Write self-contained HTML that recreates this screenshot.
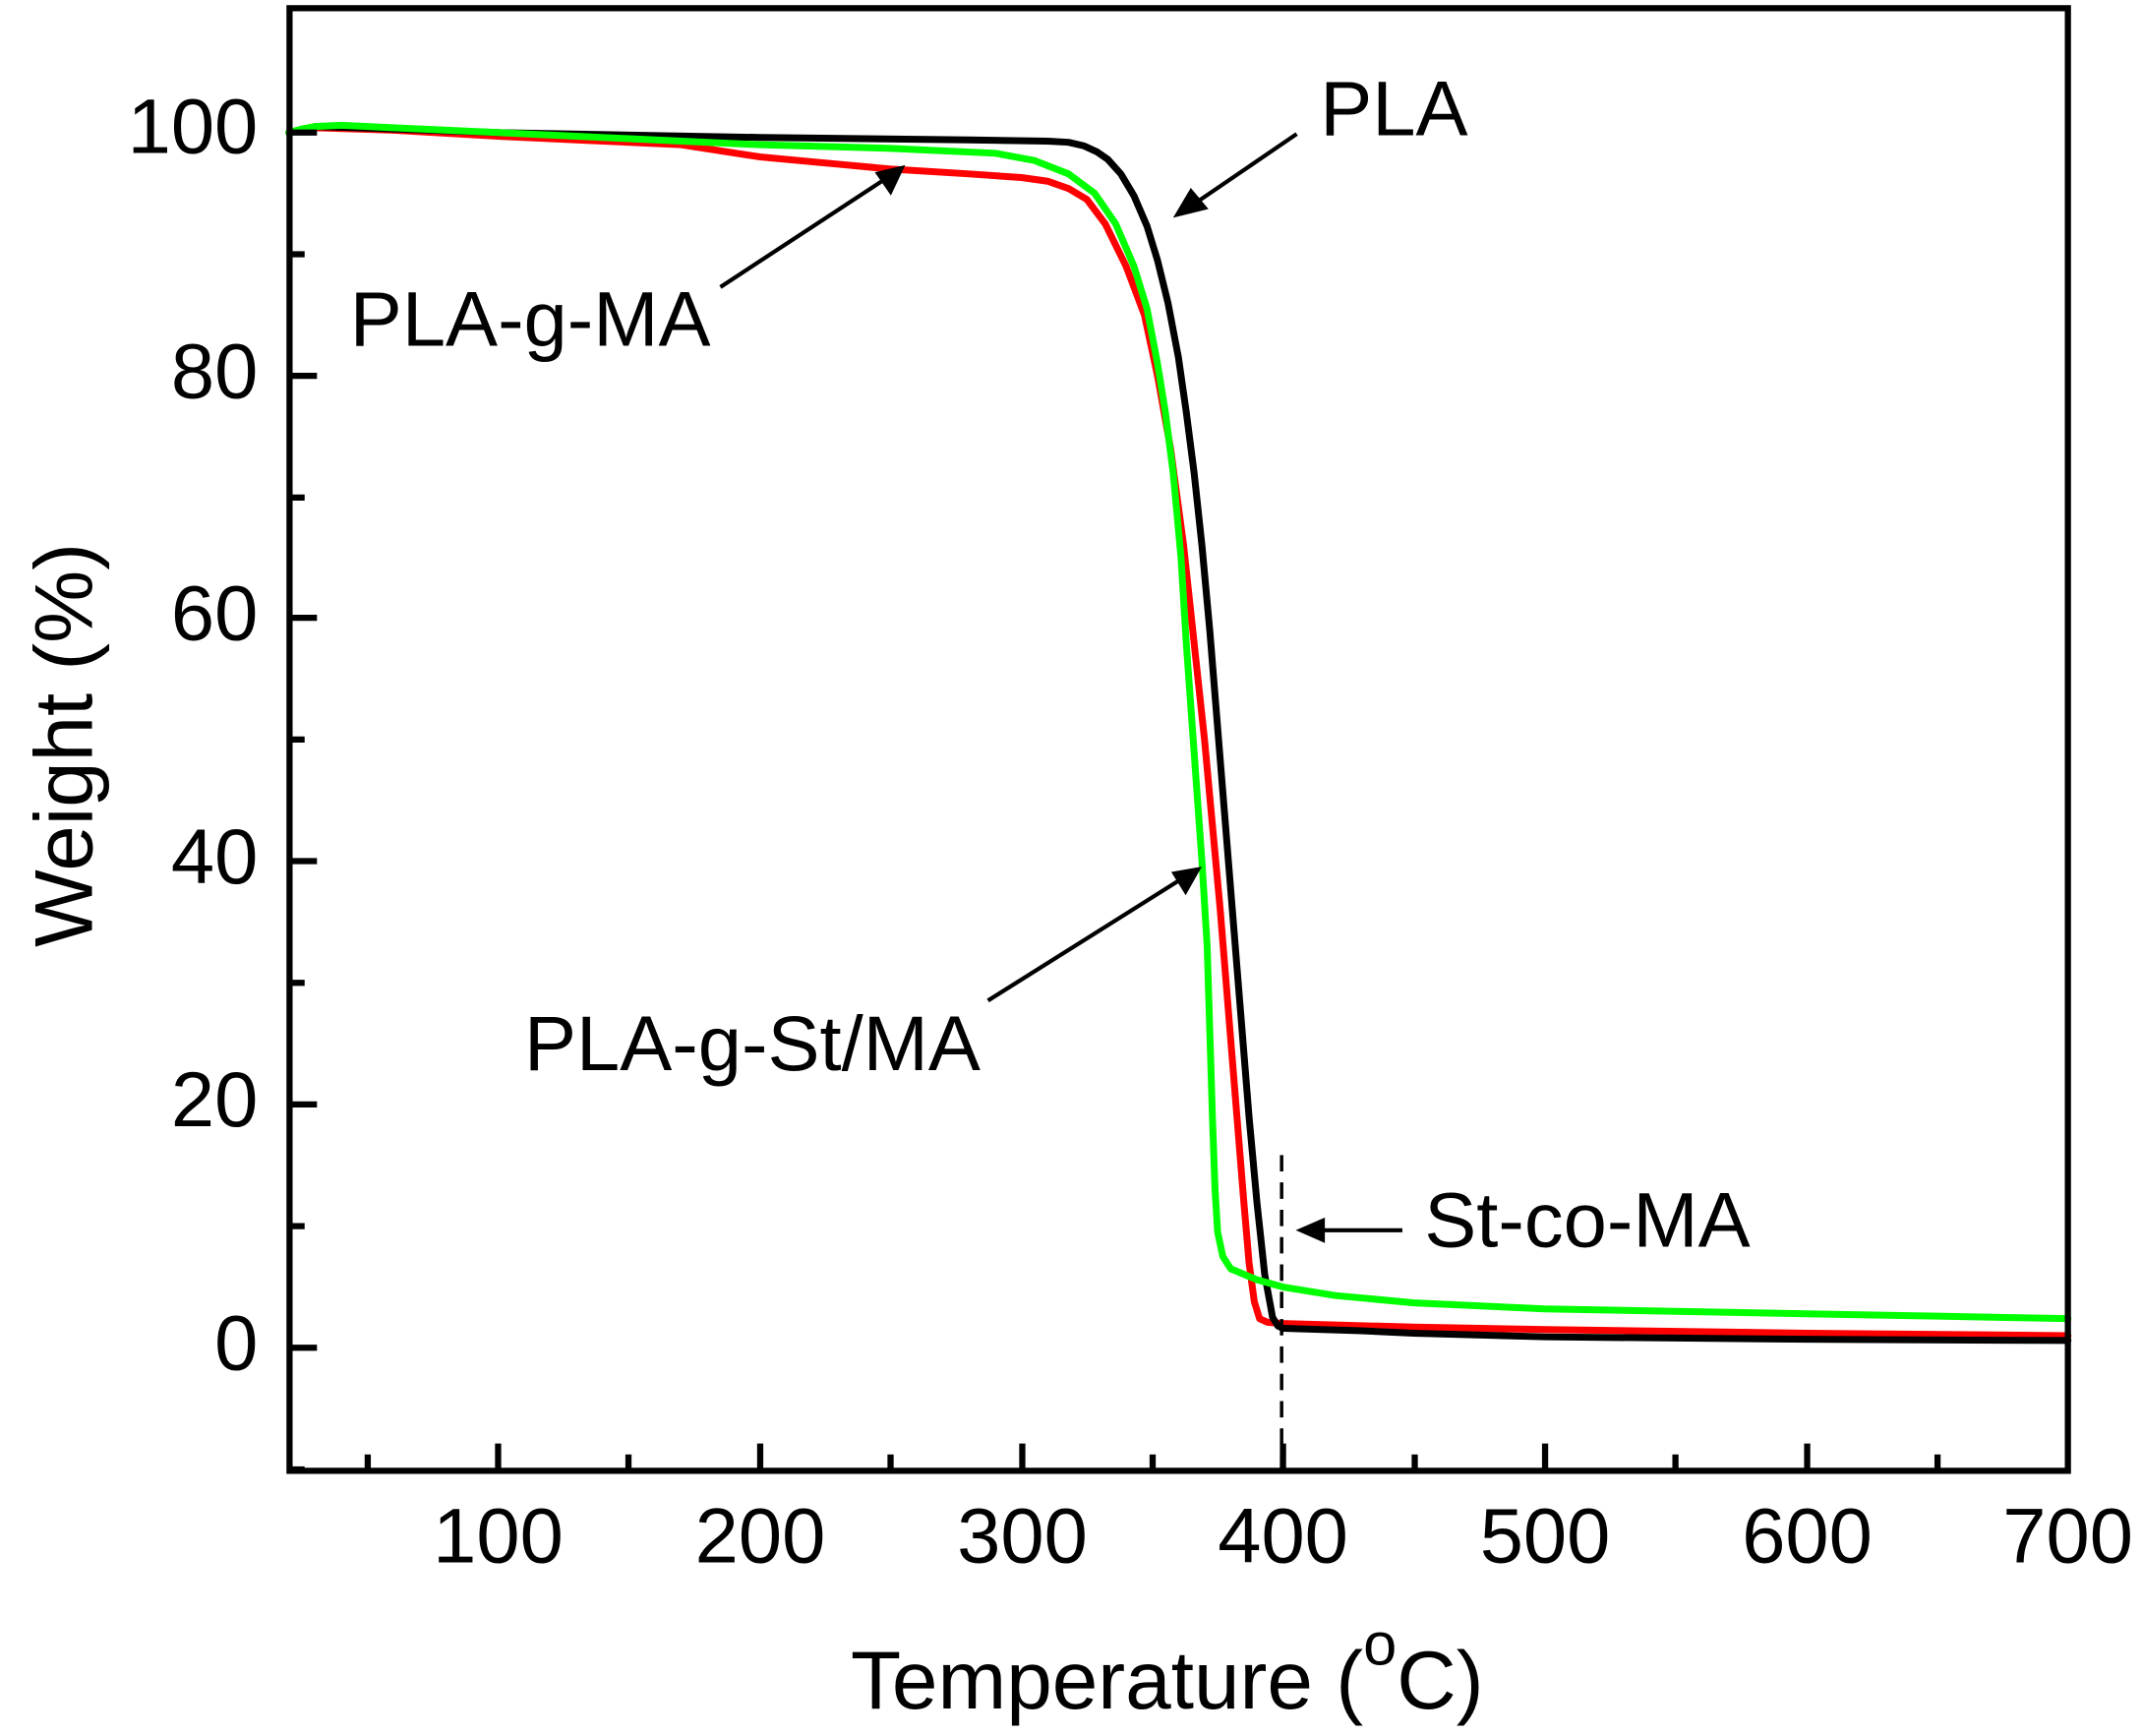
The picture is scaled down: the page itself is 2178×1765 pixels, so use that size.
<!DOCTYPE html>
<html><head><meta charset="utf-8"><style>html,body{margin:0;padding:0;background:#fff}svg{display:block}</style></head>
<body>
<svg width="2178" height="1765" viewBox="0 0 1561 1270" preserveAspectRatio="none" xmlns="http://www.w3.org/2000/svg" font-family="Liberation Sans, Arial, sans-serif">
<rect width="1561" height="1270" fill="#fff"/>
<g fill="none" stroke-linejoin="round" stroke-linecap="round" transform="matrix(1.9067 0 0 -8.89 172.37 986)">
<polyline vector-effect="non-scaling-stroke" stroke="#ff0000" stroke-width="7" points="20,100 30,100.4 60,100.2 100,99.7 140,99.3 170,99 200,98 230,97.4 250,97 280,96.6 300,96.3 310,96 318,95.4 325,94.5 332,92.5 340,89 347,85 352,80 357,74 362,66 366,58 370,50 373,43 376,36 379,28 382,20 385,12 387,7 389,3.8 391,2.4 394,2.1 400,2 450,1.7 500,1.5 600,1.2 700,1.0"/>
<polyline vector-effect="non-scaling-stroke" stroke="#000" stroke-width="7" points="20,100 30,100.5 60,100.3 100,100 200,99.6 280,99.4 310,99.3 318,99.2 324,98.9 329,98.4 333,97.8 338,96.6 343,94.8 348,92.3 352,89.5 356,86 360,81.5 363,77 366,72 369,66 372,59 375,51 378,43 381,35 384,27 387,19 390,12 393,6 396,2.5 398,1.8 400,1.6 430,1.4 450,1.2 500,0.9 600,0.7 700,0.6"/>
<polyline vector-effect="non-scaling-stroke" stroke="#00ff00" stroke-width="7" points="20,100 25,100.3 30,100.5 40,100.6 60,100.4 100,100 150,99.5 200,99 250,98.7 290,98.3 305,97.7 318,96.6 328,95 336,92.5 343,89 348,85.5 352,81 355,77 358,72 361,65 363,58 365,52 367,46 369,40 371,33 372,26 373,19 374,13 375,9.5 377,7.5 380,6.5 390,5.6 400,5 420,4.3 450,3.7 500,3.2 550,3 600,2.8 650,2.6 700,2.4"/>
</g>
<line x1="934" y1="845" x2="934" y2="1076" stroke="#000" stroke-width="2.5" stroke-dasharray="12,8"/>
<g stroke="#000" stroke-width="4.5" fill="none">
<rect x="211" y="6" width="1296" height="1070"/>
<path d="M363,1076V1056M554,1076V1056M745,1076V1056M935,1076V1056M1126,1076V1056M1317,1076V1056M268,1076V1064M458,1076V1064M649,1076V1064M840,1076V1064M1031,1076V1064M1221,1076V1064M1412,1076V1064"/>
<path d="M211,986H231M211,808H231M211,630H231M211,452H231M211,275H231M211,97H231M211,897H222M211,719H222M211,541H222M211,364H222M211,186H222M211,1075H222"/>
</g>
<g stroke="#000" stroke-width="3" fill="#000">
<line x1="945" y1="98" x2="872" y2="148"/><polygon points="858,157 868,140 878,152"/>
<line x1="525" y1="210" x2="645" y2="131"/><polygon points="657,123 649,140 640,127"/>
<line x1="720" y1="732" x2="861" y2="643"/><polygon points="873,636 864,652 856,639"/>
<line x1="1022" y1="900" x2="962" y2="900"/><polygon points="948,900 964,893 964,907"/>
</g>
<g font-size="57" fill="#000">
<text x="188" y="112" text-anchor="end">100</text>
<text x="188" y="291" text-anchor="end">80</text>
<text x="188" y="468" text-anchor="end">60</text>
<text x="188" y="646" text-anchor="end">40</text>
<text x="188" y="824" text-anchor="end">20</text>
<text x="188" y="1002" text-anchor="end">0</text>
<text x="363" y="1143" text-anchor="middle">100</text>
<text x="554" y="1143" text-anchor="middle">200</text>
<text x="745" y="1143" text-anchor="middle">300</text>
<text x="935" y="1143" text-anchor="middle">400</text>
<text x="1126" y="1143" text-anchor="middle">500</text>
<text x="1317" y="1143" text-anchor="middle">600</text>
<text x="1507" y="1143" text-anchor="middle">700</text>
<text x="962" y="99">PLA</text>
<text x="255" y="253">PLA-g-MA</text>
<text x="382" y="783">PLA-g-St/MA</text>
<text x="1038" y="912">St-co-MA</text>
</g>
<text font-size="60" x="620" y="1250">Temperature (<tspan font-size="44" dy="-32">o</tspan><tspan dy="32">C)</tspan></text>
<text font-size="60" transform="translate(67,545) rotate(-90)" text-anchor="middle">Weight (%)</text>
</svg>
</body></html>
